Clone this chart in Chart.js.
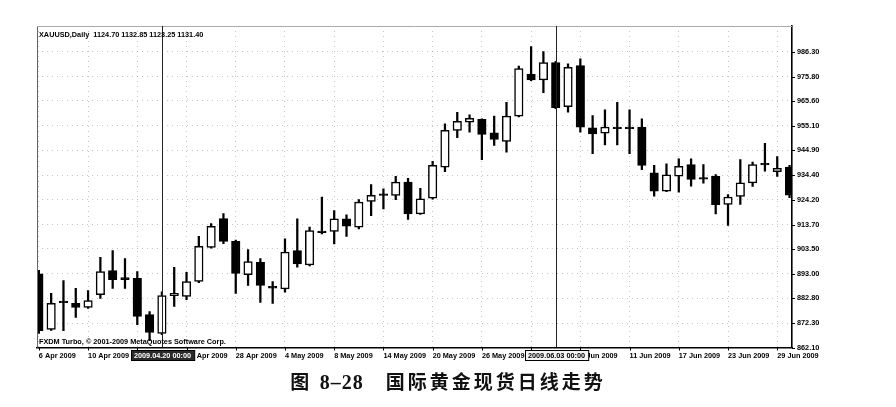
<!DOCTYPE html>
<html><head><meta charset="utf-8">
<script src="https://cdn.jsdelivr.net/npm/chart.js@4.4.1/dist/chart.umd.min.js"></script>
<style>
html,body{margin:0;padding:0;background:#fff;width:896px;height:407px;overflow:hidden;}
#wrap{position:relative;width:896px;height:407px;}
canvas{position:absolute;left:0;top:0;}
#cap{position:absolute;left:0;width:896px;top:369px;text-align:center;font-family:"Noto Sans CJK SC",sans-serif;font-weight:700;font-size:19px;letter-spacing:3px;color:#111;white-space:pre;line-height:24px;}
#cap .num{font-family:"Liberation Serif",serif;font-size:20px;letter-spacing:1px;}
</style></head>
<body><div id="wrap"><canvas id="c" width="896" height="407"></canvas><div id="cap">图 <span class="num">8–28</span>   国际黄金现货日线走势</div></div>
<script>
const dates = ['6 Apr 2009','7 Apr 2009','8 Apr 2009','9 Apr 2009','10 Apr 2009','13 Apr 2009','14 Apr 2009','15 Apr 2009','16 Apr 2009','17 Apr 2009','20 Apr 2009','21 Apr 2009','22 Apr 2009','23 Apr 2009','24 Apr 2009','27 Apr 2009','28 Apr 2009','29 Apr 2009','30 Apr 2009',
'1 May 2009','4 May 2009','5 May 2009','6 May 2009','7 May 2009','8 May 2009','11 May 2009','12 May 2009','13 May 2009','14 May 2009','15 May 2009','18 May 2009','19 May 2009','20 May 2009','21 May 2009','22 May 2009','25 May 2009','26 May 2009','27 May 2009','28 May 2009','29 May 2009',
'1 Jun 2009','2 Jun 2009','3 Jun 2009','4 Jun 2009','5 Jun 2009','8 Jun 2009','9 Jun 2009','10 Jun 2009','11 Jun 2009','12 Jun 2009','15 Jun 2009','16 Jun 2009','17 Jun 2009','18 Jun 2009','19 Jun 2009','22 Jun 2009','23 Jun 2009','24 Jun 2009','25 Jun 2009','26 Jun 2009','29 Jun 2009','30 Jun 2009'];
const opens  = [893.0,869.7,881.6,880.6,878.9,884.3,894.4,891.4,891.1,875.9,868.0,883.9,883.5,889.8,904.1,916.2,906.6,892.7,897.8,887.8,886.7,902.8,896.8,911.0,910.8,916.1,912.6,923.4,926.6,925.9,931.5,918.2,924.8,937.8,953.2,956.6,957.8,952.2,948.6,959.2,976.7,974.4,981.6,963.2,980.4,954.3,952.0,954.6,954.6,954.6,935.4,927.7,934.0,938.9,933.4,933.9,922.1,925.5,931.2,939.4,935.9,937.8];
const highs  = [894.5,884.8,890.2,886.9,886.0,899.9,902.8,899.4,894.0,877.2,885.5,895.7,893.6,908.7,914.1,918.3,907.2,903.2,899.4,889.8,907.7,916.1,912.6,925.2,919.6,917.8,924.2,930.5,928.7,933.9,933.1,928.9,940.2,956.0,960.8,959.7,958.1,959.2,965.0,980.2,988.4,986.3,982.2,981.1,983.2,959.4,961.8,965.0,961.8,958.1,938.5,939.2,941.3,941.3,938.8,934.7,926.3,940.9,939.9,947.8,942.2,938.5];
const lows   = [868.0,869.3,869.2,874.7,878.5,882.7,886.9,886.9,871.7,865.0,867.5,879.3,882.2,889.3,903.8,905.7,884.8,888.1,881.0,880.6,885.3,895.8,896.3,909.8,905.6,908.7,911.9,917.4,920.3,924.1,915.8,917.9,924.3,935.9,950.1,952.5,940.9,946.9,944.1,958.8,974.1,969.0,962.3,960.8,952.5,943.4,947.1,947.1,943.4,936.7,925.6,927.5,927.3,929.8,931.1,918.2,913.3,922.1,929.7,936.1,933.9,925.0];
const closes = [869.2,880.6,880.9,878.9,881.8,894.0,890.6,890.6,875.1,868.4,883.9,884.8,889.8,904.5,912.9,906.6,893.2,898.2,888.1,887.0,902.1,897.2,911.2,910.3,916.1,913.0,923.1,925.9,925.9,931.5,918.2,924.5,938.5,953.2,957.0,958.3,951.5,949.4,959.2,979.1,974.4,981.6,962.7,979.7,954.6,951.7,954.6,953.9,953.9,938.5,927.7,934.6,938.1,932.6,932.7,922.0,925.2,931.2,938.9,938.7,937.3,926.0];
const xTickIndex = [0,4,8,12,16,20,24,28,32,36,40,44,48,52,56,60];
const yTickValues = [862.1,872.3,882.8,893.0,903.5,913.7,924.2,934.4,944.9,955.1,965.6,975.8,986.3];
const headerText = 'XAUUSD,Daily  1124.70 1132.85 1123.25 1131.40';
const footerText = 'FXDM Turbo, © 2001-2009 MetaQuotes Software Corp.';
const markerIndex = [10, 42];
const markerLabels = ['2009.04.20 00:00', '2009.06.03 00:00'];

const markerFill = ['#2a2a2a', '#f4f4f4'];
const markerTextColor = ['#ffffff', '#000000'];
const FONT = {family:'"Liberation Sans", Arial, sans-serif', size:7.3, weight:'bold'};
const fontStr = 'bold 7.3px "Liberation Sans", Arial, sans-serif';

const bodyData = opens.map((o,i)=>({x:i, y:[o, closes[i]]}));
const wickData = highs.map((h,i)=>({x:i, y:[lows[i], h]}));
const bodyFill = opens.map((o,i)=> closes[i] > o ? '#ffffff' : '#000000');

const overlay = {
  id:'overlay',
  afterDraw(chart){
    const {ctx, chartArea:a, scales:{x,y}} = chart;
    ctx.save();
    ctx.strokeStyle='#666'; ctx.lineWidth=1;
    ctx.beginPath();
    ctx.moveTo(a.left+0.5, a.top); ctx.lineTo(a.left+0.5, a.bottom);
    ctx.stroke();
    ctx.strokeStyle='#aaa';
    ctx.beginPath();
    ctx.moveTo(a.left, a.top+0.5); ctx.lineTo(a.right, a.top+0.5);
    ctx.stroke();
    ctx.strokeStyle='#000'; ctx.lineWidth=1;
    ctx.beginPath();
    yTickValues.forEach(v=>{const py=Math.round(y.getPixelForValue(v))+0.5; ctx.moveTo(a.right, py); ctx.lineTo(a.right+3, py);});
    xTickIndex.forEach(i=>{const px=Math.round(x.getPixelForValue(i))+0.5; ctx.moveTo(px, a.bottom); ctx.lineTo(px, a.bottom+3);});
    ctx.stroke();
    ctx.font = fontStr;
    markerIndex.forEach((idx,k)=>{
      const px = Math.round(x.getPixelForValue(idx))+0.5;
      ctx.strokeStyle='#222'; ctx.lineWidth=1;
      ctx.beginPath(); ctx.moveTo(px,a.top); ctx.lineTo(px,a.bottom); ctx.stroke();
      const w = ctx.measureText(markerLabels[k]).width+6;
      const bx = Math.round(px - w/2)+0.5, by = Math.round(a.bottom)+2.5;
      ctx.fillStyle = markerFill[k]; ctx.fillRect(bx,by,w,10);
      ctx.strokeStyle='#000'; ctx.strokeRect(bx,by,w,10);
      ctx.fillStyle = markerTextColor[k]; ctx.textAlign='center'; ctx.textBaseline='middle';
      ctx.fillText(markerLabels[k], px, by+5.5);
    });
    ctx.fillStyle='#000'; ctx.textAlign='left'; ctx.textBaseline='middle';
    ctx.fillText(headerText, a.left+2, a.top+9);
    ctx.fillText(footerText, a.left+2, a.bottom-6);
    ctx.restore();
  }
};

new Chart(document.getElementById('c'), {
  type:'bar',
  data:{datasets:[
    {label:'wick', data:wickData, backgroundColor:'#000', borderWidth:0, barThickness:1.6, grouped:false, order:2},
    {label:'body', data:bodyData, backgroundColor:bodyFill, borderColor:'#000', borderWidth:1.5, borderSkipped:false, barThickness:8.5, grouped:false, order:1}
  ]},
  options:{
    responsive:false, animation:false, devicePixelRatio:1,
    layout:{padding:{left:37, top:26, right:54, bottom:39.5}},
    plugins:{legend:{display:false}, tooltip:{enabled:false}},
    scales:{
      x:{type:'linear', min:-0.15, max:61.2, offset:false,
         grid:{display:true, offset:false, color:'rgba(0,0,0,0.22)', lineWidth:1, drawTicks:false},
         border:{display:true, color:'#000', width:1.6, dash:[1,4]},
         ticks:{autoSkip:false, maxRotation:0, minRotation:0, align:'start', padding:4, font:FONT, color:'#000', callback:(v)=>dates[v]},
         afterBuildTicks:(s)=>{s.ticks = xTickIndex.map(v=>({value:v}));},
         afterFit:(s)=>{s.height=20;}},
      y:{position:'right', min:862.1, max:997,
         grid:{display:true, color:'rgba(0,0,0,0.22)', lineWidth:1, drawTicks:false},
         border:{display:true, color:'#000', width:1.6, dash:[1,4]},
         ticks:{padding:5, font:FONT, color:'#000', callback:(v)=>Number(v).toFixed(2)},
         afterBuildTicks:(s)=>{s.ticks = yTickValues.map(v=>({value:v}));},
         afterFit:(s)=>{s.width=50;}}
    }
  },
  plugins:[overlay]
});
</script>
</body></html>
